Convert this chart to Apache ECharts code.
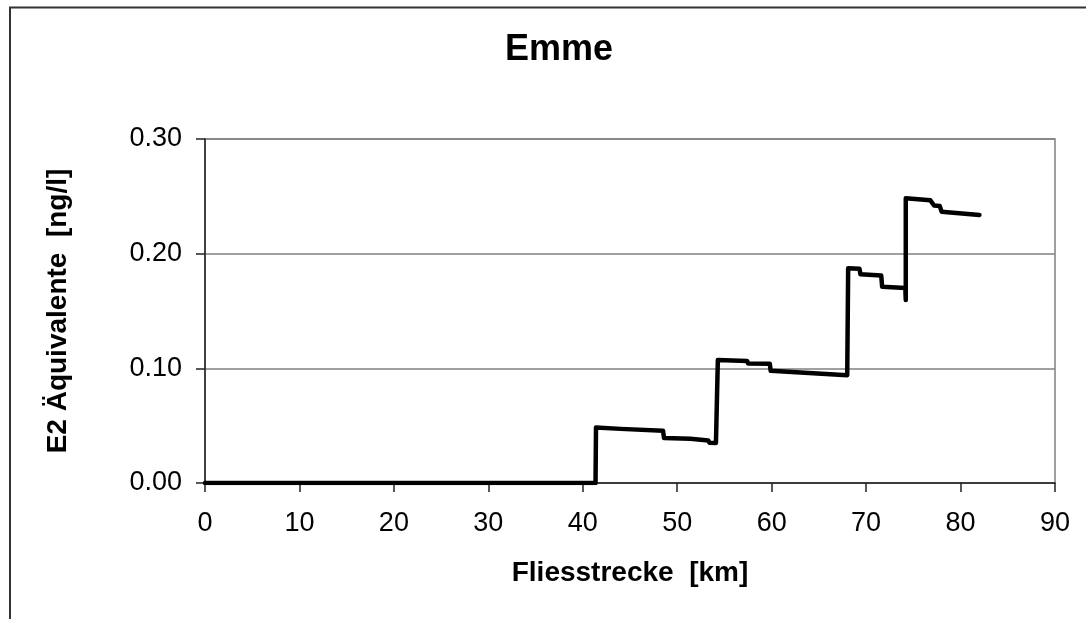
<!DOCTYPE html>
<html>
<head>
<meta charset="utf-8">
<script src="https://cdn.jsdelivr.net/npm/echarts@6/dist/echarts.min.js"></script>
<style>
html,body{margin:0;padding:0;background:#fff;}
#chart{width:1086px;height:619px;}
</style>
</head>
<body>
<div id="chart"></div>
<script>
var chartTitle = "Emme";
var xAxisName = "Fliesstrecke  [km]";
var yAxisName = "E2 Äquivalente  [ng/l]";
var km = [0, 41.35, 41.4, 44.0, 48.5, 48.6, 51.4, 51.5, 53.3, 53.4, 54.1, 54.3, 57.4, 57.5, 59.8, 59.9, 68.0, 68.1, 69.3, 69.4, 71.6, 71.7, 74.15, 74.2, 74.2, 76.8, 77.2, 77.8, 78.0, 82.0];
var e2 = [0, 0, 0.0484, 0.0472, 0.0455, 0.0393, 0.0385, 0.0373, 0.0370, 0.0352, 0.0349, 0.1072, 0.1065, 0.1043, 0.1040, 0.0978, 0.0940, 0.1872, 0.1868, 0.1820, 0.1810, 0.1712, 0.1700, 0.1595, 0.2484, 0.2465, 0.2420, 0.2415, 0.2365, 0.2338];

var seriesData = km.map(function (x, i) { return [x, e2[i]]; });

var chart = echarts.init(document.getElementById('chart'), null, {renderer: 'canvas'});
var font = '"Liberation Sans", Arial, sans-serif';
chart.setOption({
  animation: false,
  backgroundColor: '#ffffff',
  title: {
    text: chartTitle,
    left: 554,
    top: 27,
    textAlign: 'center',
    textStyle: {fontFamily: font, fontSize: 36, fontWeight: 'bold', color: '#000'}
  },
  graphic: [{
    type: 'rect',
    shape: {x: 10, y: 7.5, width: 1200, height: 800},
    style: {fill: 'none', stroke: '#333', lineWidth: 2},
    silent: true, z: 100
  }, {
    type: 'rect',
    shape: {x: 205, y: 139, width: 850, height: 344},
    style: {fill: 'none', stroke: '#808080', lineWidth: 1.5},
    silent: true, z: 0
  }],
  grid: {left: 205, right: 31, top: 139, bottom: 136, containLabel: false},
  xAxis: {
    type: 'value',
    min: 0, max: 90, interval: 10,
    name: xAxisName,
    nameLocation: 'middle',
    nameGap: 76,
    nameTextStyle: {fontFamily: font, fontSize: 28, fontWeight: 'bold', color: '#000'},
    axisLine: {show: true, onZero: false, lineStyle: {color: '#222', width: 1.5}},
    axisTick: {show: true, length: 9, inside: false, lineStyle: {color: '#222', width: 1.5}},
    axisLabel: {fontFamily: font, fontSize: 27, color: '#000', margin: 27},
    splitLine: {show: false}
  },
  yAxis: {
    type: 'value',
    min: 0, max: 0.3, interval: 0.1,
    name: yAxisName,
    nameLocation: 'middle',
    nameGap: 133,
    nameRotate: 90,
    nameTextStyle: {fontFamily: font, fontSize: 28, fontWeight: 'bold', color: '#000'},
    axisLine: {show: true, lineStyle: {color: '#222', width: 1.5}},
    axisTick: {show: true, length: 9, inside: false, lineStyle: {color: '#222', width: 1.5}},
    axisLabel: {fontFamily: font, fontSize: 27, color: '#000', margin: 23,
      formatter: function (v) { return v.toFixed(2); }},
    splitLine: {show: true, lineStyle: {color: '#808080', width: 1.5}}
  },
  series: [{
    type: 'line',
    data: seriesData,
    showSymbol: false,
    symbol: 'none',
    lineStyle: {color: '#000', width: 4.5, join: 'round', cap: 'round'},
    z: 10
  }]
});
</script>
</body>
</html>
